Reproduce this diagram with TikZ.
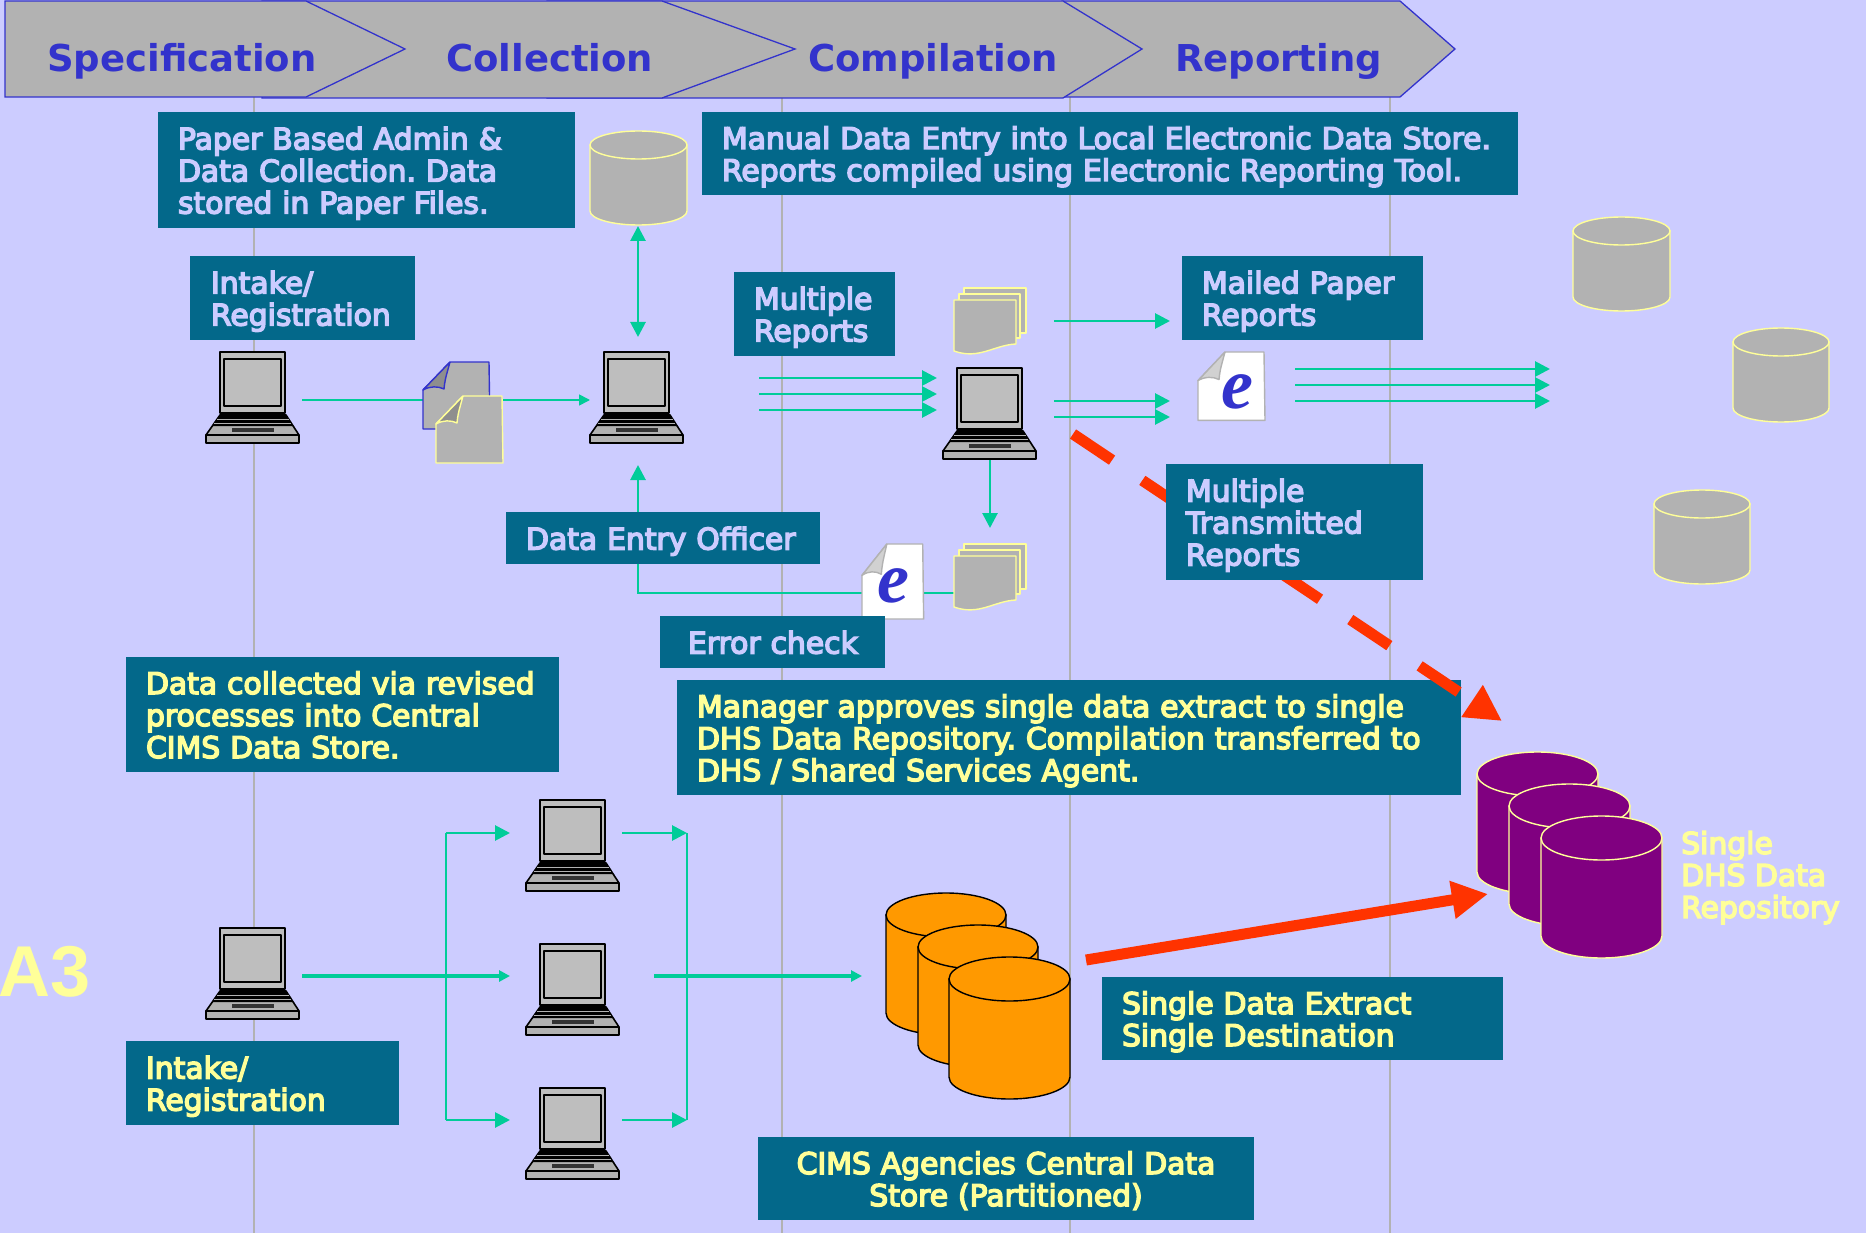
\documentclass[tikz,border=0pt]{standalone}
\usepackage{fontspec}
\usetikzlibrary{arrows.meta}
\setmainfont{DejaVu Sans}
\newfontfamily\lblfont[FakeBold=5]{DejaVu Sans}
\newfontfamily\efont{Liberation Serif}
\newfontfamily\afont{Liberation Sans}
\definecolor{bgc}{HTML}{CCCCFF}
\definecolor{boxc}{HTML}{03688A}
\definecolor{yel}{HTML}{FFFF99}
\definecolor{teal2}{HTML}{00CC99}
\definecolor{redc}{HTML}{FF3300}
\definecolor{gry}{HTML}{B2B2B2}
\definecolor{blu}{HTML}{3333CC}
\definecolor{org}{HTML}{FF9900}
\definecolor{pur}{HTML}{800080}
\frenchspacing
\tikzset{
  x=1pt,y=-1pt,
  chev/.style={fill=gry,draw=blu,line width=1.3pt,line join=miter},
  chevtext/.style={font=\bfseries\fontsize{37}{40}\selectfont,text=blu,anchor=base west,inner sep=0},
  lbl/.style={fill=boxc,anchor=north west,inner sep=0,outer sep=0,align=left,font=\lblfont\frenchspacing\fontsize{29.8}{32}\selectfont},
  flow/.style={draw=teal2,line width=2.8pt,-{Triangle[length=15pt,width=15pt]}},
  flowthin/.style={draw=teal2,line width=1.6pt,-{Triangle[length=11pt,width=11pt]}},
  flowplain/.style={draw=teal2,line width=2.8pt},
  flowthick/.style={draw=teal2,line width=4.6pt,-{Triangle[length=11pt,width=11pt]}},
  redarrow/.style={draw=redc,line width=11pt,-{Triangle[length=36pt,width=36pt]}},
  guide/.style={draw=gry,line width=1.4pt},
}
% \lbox{name}{x1}{y1}{x2}{y2}{inset}{colour}{text}
\newcommand{\lbox}[8]{%
  \pgfmathsetmacro{\bw}{#4-#2}\pgfmathsetmacro{\bh}{#5-#3}%
  \node[lbl,text=#7,minimum height=\bh pt,text width=\bw pt] (#1) at (#2,#3)
    {\def\\{\newline\hspace*{#6pt}}\hspace*{#6pt}\rule{0pt}{30pt}#8\rule[-7pt]{0pt}{7pt}};}
\newcommand{\laptop}[2]{%
  \begin{scope}[shift={(#1,#2)},draw=black,line join=round]
    \filldraw[fill=gry!85!white,line width=2pt] (14,0) rectangle (79,61);
    \filldraw[fill=gry!85!white,line width=2pt] (18,7) rectangle (75,54);
    \filldraw[fill=gry,line width=1.6pt] (14,63) -- (80,63) -- (93,83) -- (0,83) -- cycle;
    \fill[black] (14,63) -- (80,63) -- (87,74) -- (6,74) -- cycle;
    \draw[gry,line width=.8pt] (11,67.5) -- (83,67.5) (8,71) -- (85,71);
    \filldraw[fill=gry,line width=2pt] (0,83) rectangle (93,91);
    \fill[black!80] (26,75.5) rectangle (68,80);
  \end{scope}}
% \cyl{x1}{y1}{x2}{y2}{ellipse half height}{fill}{draw}{lw}
\newcommand{\cyl}[8]{%
  \pgfmathsetmacro{\cx}{(#1+#3)/2}\pgfmathsetmacro{\rx}{(#3-#1)/2}%
  \filldraw[fill=#6,draw=#7,line width=#8pt] (#1,#2+#5) -- (#1,#4-#5)
     arc[start angle=180,end angle=0,x radius=\rx,y radius=#5] -- (#3,#2+#5) -- cycle;
  \filldraw[fill=#6,draw=#7,line width=#8pt] (\cx,#2+#5) ellipse[x radius=\rx,y radius=#5];}
% \foldoc{x}{y}{xscale}{yscale}{fill}{draw}{foldfill}
\newcommand{\foldoc}[7]{%
  \begin{scope}[shift={(#1,#2)},xscale=#3,yscale=#4,line join=round]
    \filldraw[fill=#5,draw=#6,line width=1.4pt] (27,0) -- (66,0) -- (67,67) -- (0,67) -- (0,28) -- cycle;
    \filldraw[fill=#7,draw=#6,line width=1.4pt] (27,0) -- (0,28) .. controls (7,24) and (15,24) .. (21,27) .. controls (22,18) .. (27,0);
  \end{scope}}
\newcommand{\stackdoc}[2]{%
  \begin{scope}[shift={(#1,#2)},fill=gry,draw=yel,line width=1.4pt,line join=round]
    \filldraw (10,0) rectangle (72,45);
    \filldraw (5,6) rectangle (66,50);
    \filldraw (0,12) -- (62,12) -- (62,56) .. controls (40,57) and (25,72) .. (0,63) -- cycle;
  \end{scope}}
\begin{document}
\begin{tikzpicture}
\useasboundingbox (0,0) rectangle (1866,1233);
\fill[bgc] (0,0) rectangle (1866,1233);
% guides
\foreach \gx in {254,782,1070,1390} \draw[guide] (\gx,97) -- (\gx,1233);
% chevrons
\draw[chev] (1062,1) -- (1400,1) -- (1455,49) -- (1400,97) -- (1062,97) -- cycle;
\draw[chev] (547,1) -- (1063,1) -- (1142,49) -- (1063,98) -- (547,98) -- cycle;
\draw[chev] (262,1) -- (662,1) -- (795,49) -- (662,98) -- (262,98) -- cycle;
\draw[chev] (5,1) -- (306,1) -- (405,49) -- (306,97) -- (5,97) -- cycle;
\node[chevtext] (tspec) at (47,72) {Specification};
\node[chevtext] (tcoll) at (446,72) {Collection};
\node[chevtext] (tcomp) at (808,72) {Compilation};
\node[chevtext] (trep) at (1175,72) {Reporting};
% free connector ends
\coordinate (l1out) at (302,400);
\coordinate (l2in) at (590,400);
\coordinate (cylbot) at (638,226);
\coordinate (l2top) at (638,337);
\foreach \n/\y in {1/378,2/394,3/410} {\coordinate (ma\n) at (759,\y); \coordinate (mb\n) at (937,\y);}
\coordinate (pa) at (1054,321); \coordinate (pb) at (1170,321);
\coordinate (qa1) at (1054,401); \coordinate (qb1) at (1170,401);
\coordinate (qa2) at (1054,417); \coordinate (qb2) at (1170,417);
\coordinate (downa) at (990,449); \coordinate (downb) at (990,528);
\foreach \n/\y in {1/369,2/385,3/401} {\coordinate (ra\n) at (1295,\y); \coordinate (rb\n) at (1550,\y);}
\coordinate (fa) at (954,593); \coordinate (fc) at (638,593); \coordinate (fb) at (638,465);
\coordinate (la) at (302,976); \coordinate (lb) at (510,976);
\coordinate (bt) at (446,833); \coordinate (bb) at (446,1120);
\coordinate (btt) at (510,833); \coordinate (bbt) at (510,1120);
\coordinate (ot1) at (622,833); \coordinate (ot2) at (687,833);
\coordinate (ob1) at (622,1120); \coordinate (ob2) at (687,1120);
\coordinate (ca) at (654,976); \coordinate (cb) at (862,976);
\coordinate (reda) at (1073,434); \coordinate (redb) at (1502,721);
\coordinate (sa) at (1086,960); \coordinate (sb) at (1488,894);
% connectors
\draw[flowthin] (l1out) -- (l2in);
\draw[flow,{Triangle[length=15pt,width=15pt]}-{Triangle[length=15pt,width=15pt]}] (cylbot) -- (l2top);
\foreach \n in {1,2,3} \draw[flow] (ma\n) -- (mb\n);
\draw[flow] (pa) -- (pb);
\draw[flow] (qa1) -- (qb1);
\draw[flow] (qa2) -- (qb2);
\draw[flow] (downa) -- (downb);
\foreach \n in {1,2,3} \draw[flow] (ra\n) -- (rb\n);
\draw[flow] (fa) -- (fc) -- (fb);
\draw[flowthick] (la) -- (lb);
\draw[flow] (bt) -- (btt);
\draw[flow] (bb) -- (bbt);
\draw[flowplain] (bt) -- (bb);
\draw[flow] (ot1) -- (ot2);
\draw[flow] (ob1) -- (ob2);
\draw[flowplain] (ot2) -- (ob2);
\draw[flowthick] (ca) -- (cb);
% cylinders
\cyl{590}{131}{687}{225}{14}{gry}{yel}{1.4}
\cyl{1573}{217}{1670}{311}{14}{gry}{yel}{1.4}
\cyl{1733}{328}{1829}{422}{14}{gry}{yel}{1.4}
\cyl{1654}{490}{1750}{584}{14}{gry}{yel}{1.4}
\cyl{886}{893}{1006}{1035}{22}{org}{black}{1.4}
\cyl{918}{925}{1038}{1067}{22}{org}{black}{1.4}
\cyl{949}{957}{1070}{1099}{22}{org}{black}{1.4}
\cyl{1477}{752}{1598}{894}{22}{pur}{yel}{1.4}
\cyl{1509}{784}{1630}{926}{22}{pur}{yel}{1.4}
\cyl{1541}{816}{1662}{958}{22}{pur}{yel}{1.4}
% laptops
\laptop{206}{352}\laptop{590}{352}\laptop{943}{368}
\laptop{526}{800}\laptop{526}{944}\laptop{526}{1088}\laptop{206}{928}
% papers
\foldoc{423}{362}{1}{1}{gry}{blu}{gry!80!black}
\foldoc{436}{396}{1}{1}{gry}{yel}{gry!80!black}
\stackdoc{954}{288}
\stackdoc{954}{544}
\foldoc{1198}{352}{1}{1.02}{white}{gry}{gry!60!white}
\foldoc{862}{544}{.92}{1.12}{white}{gry}{gry!60!white}
\node[font=\efont\bfseries\itshape\fontsize{72}{72}\selectfont,text=blu,inner sep=0] (e1) at (1237,392) {e};
\node[font=\efont\bfseries\itshape\fontsize{72}{72}\selectfont,text=blu,inner sep=0] (e2) at (893,586) {e};
% boxes
\lbox{b1}{158}{112}{575}{228}{20}{bgc}{Paper Based Admin \&\\Data Collection. Data\\stored in Paper Files.}
\lbox{b2}{702}{112}{1518}{195}{20}{bgc}{Manual Data Entry into Local Electronic Data Store.\\Reports compiled using Electronic Reporting Tool.}
\lbox{b3}{190}{256}{415}{340}{21}{bgc}{Intake/\\Registration}
\lbox{b4}{734}{272}{895}{356}{20}{bgc}{Multiple\\Reports}
\lbox{b5}{1182}{256}{1423}{340}{20}{bgc}{Mailed Paper\\Reports}
\lbox{b7}{506}{512}{820}{564}{20}{bgc}{Data Entry Officer}
\lbox{b8}{660}{616}{885}{668}{28}{bgc}{Error check}
\lbox{b9}{126}{657}{559}{772}{20}{yel}{Data collected via revised\\processes into Central\\CIMS Data Store.}
\lbox{b10}{677}{680}{1461}{795}{20}{yel}{Manager approves single data extract to single\\DHS Data Repository. Compilation transferred to\\DHS / Shared Services Agent.}
% red dashed: over the manager box, under the transmitted reports box
\draw[redarrow,dash pattern=on 47pt off 36.4pt] (reda) -- (redb);
\lbox{b6}{1166}{464}{1423}{580}{20}{bgc}{Multiple\\Transmitted\\Reports}
\lbox{b11}{126}{1041}{399}{1125}{20}{yel}{Intake/\\Registration}
\lbox{b12}{1102}{977}{1503}{1060}{20}{yel}{Single Data Extract\\Single Destination}
\node[lbl,text=yel,minimum height=83pt,align=center,text width=496pt] (b13) at (758,1137) {\rule{0pt}{30pt}CIMS Agencies Central Data\\Store (Partitioned)\rule[-7pt]{0pt}{7pt}};
% free labels
\node[anchor=north west,inner sep=0,align=left,text=yel,font=\lblfont\fontsize{29.8}{32}\selectfont] (rep) at (1681,831) {Single\\DHS Data\\Repository};
\node[anchor=west,inner sep=0,text=yel,font=\afont\bfseries\fontsize{72}{72}\selectfont] (a3) at (-2,972) {A3};
% red solid
\draw[redarrow] (sa) -- (sb);
\end{tikzpicture}
\end{document}
